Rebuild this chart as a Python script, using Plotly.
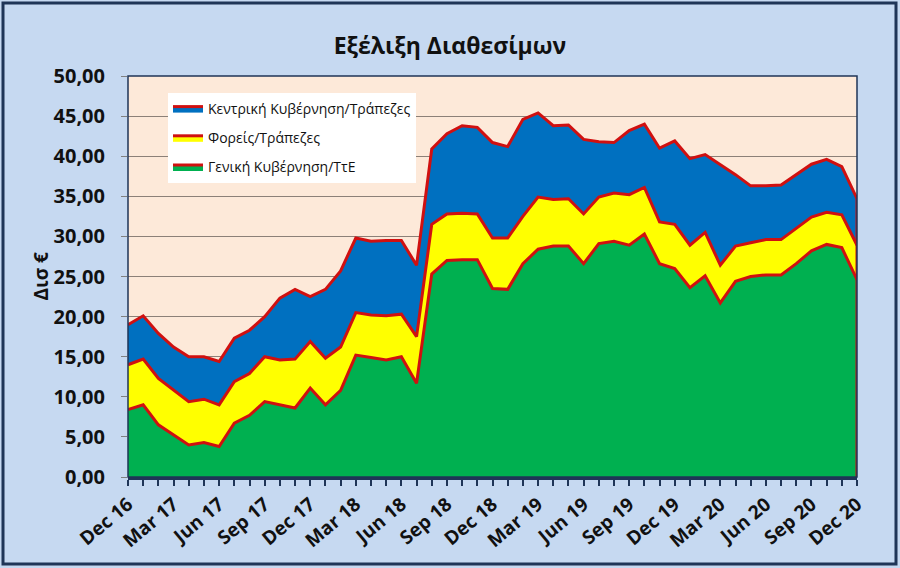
import plotly.graph_objects as go

months = ["Dec 16",
          "Jan 17", "Feb 17", "Mar 17", "Apr 17", "May 17", "Jun 17", "Jul 17", "Aug 17", "Sep 17", "Oct 17", "Nov 17", "Dec 17",
          "Jan 18", "Feb 18", "Mar 18", "Apr 18", "May 18", "Jun 18", "Jul 18", "Aug 18", "Sep 18", "Oct 18", "Nov 18", "Dec 18",
          "Jan 19", "Feb 19", "Mar 19", "Apr 19", "May 19", "Jun 19", "Jul 19", "Aug 19", "Sep 19", "Oct 19", "Nov 19", "Dec 19",
          "Jan 20", "Feb 20", "Mar 20", "Apr 20", "May 20", "Jun 20", "Jul 20", "Aug 20", "Sep 20", "Oct 20", "Nov 20", "Dec 20"]

# Γενική Κυβέρνηση/ΤτΕ (bottom, green)
genikh = [8.4, 9.0, 6.5, 5.2, 4.0, 4.3, 3.8, 6.7, 7.7, 9.4, 9.0, 8.6, 11.1,
          9.0, 10.8, 15.2, 14.9, 14.6, 15.0, 11.7, 25.3, 27.0, 27.1, 27.1, 23.5,
          23.4, 26.6, 28.4, 28.8, 28.8, 26.6, 29.1, 29.4, 28.9, 30.3, 26.6, 26.0,
          23.6, 25.1, 21.7, 24.4, 25.0, 25.2, 25.2, 26.6, 28.2, 29.0, 28.6, 24.6]

# Φορείς/Τράπεζες (middle, yellow)
foreis = [5.6, 5.7, 5.8, 5.6, 5.4, 5.4, 5.2, 5.2, 5.2, 5.6, 5.6, 6.1, 5.8,
          5.8, 5.4, 5.3, 5.3, 5.5, 5.3, 5.8, 6.2, 5.8, 5.8, 5.7, 6.3,
          6.4, 5.9, 6.5, 5.8, 5.9, 6.2, 5.8, 6.0, 6.3, 5.8, 5.2, 5.5,
          5.3, 5.4, 4.7, 4.4, 4.2, 4.4, 4.4, 4.4, 4.2, 4.0, 4.1, 4.3]

# Κεντρική Κυβέρνηση/Τράπεζες (top, blue)
kentrikh = [5.0, 5.4, 5.6, 5.4, 5.6, 5.3, 5.4, 5.4, 5.4, 5.0, 7.7, 8.7, 5.6,
            8.6, 9.5, 9.3, 9.2, 9.4, 9.2, 8.9, 9.4, 10.0, 10.9, 10.8, 11.9,
            11.4, 12.1, 10.5, 9.2, 9.2, 9.3, 6.9, 6.3, 8.0, 7.9, 9.2, 10.4,
            10.8, 9.7, 12.6, 8.9, 7.1, 6.7, 6.8, 6.7, 6.6, 6.6, 6.0, 5.8]

series_names = ["Γενική Κυβέρνηση/ΤτΕ", "Φορείς/Τράπεζες", "Κεντρική Κυβέρνηση/Τράπεζες"]
series_values = [genikh, foreis, kentrikh]
series_colors = ["#00B050", "#FFFF00", "#0070C0"]

tick_labels = [m if i % 3 == 0 else "" for i, m in enumerate(months)]

RED = "#D01010"
NAVY = "#1F3557"
FONT = "Open Sans"

fig = go.Figure()
for k, (name, vals, col) in enumerate(zip(series_names, series_values, series_colors)):
    fig.add_trace(go.Scatter(
        x=months, y=vals, name=name, mode="lines", stackgroup="one",
        line=dict(color=RED, width=3), fillcolor=col,
        legendgroup=f"g{k}", legendrank=10 - k, hoverinfo="skip"))

# right-edge closing outline of the area (Excel style)
total_last = genikh[-1] + foreis[-1] + kentrikh[-1]
fig.add_trace(go.Scatter(x=[months[-1], months[-1]], y=[0, total_last], mode="lines",
                         line=dict(color=RED, width=3), showlegend=False, hoverinfo="skip"))

W, H = 900, 568
L, R, T, B = 128, 43, 76, 91
pw, ph = W - L - R, H - T - B

def px_x(p):
    return (p - L) / pw

def px_y(p):
    return (H - B - p) / ph

fig.update_layout(
    width=W, height=H,
    margin=dict(l=L, r=R, t=T, b=B, autoexpand=False),
    paper_bgcolor="#C6D9F1",
    plot_bgcolor="#FDE9D9",
    font=dict(family=FONT, color="#111111"),
    title=dict(text="<b>Εξέλιξη Διαθεσίμων</b>", x=0.5, xref="container", xanchor="center",
               y=1 - 46 / H, yref="container", yanchor="middle",
               font=dict(family=FONT, size=23, color="#111111")),
    showlegend=True,
    legend=dict(x=px_x(168), y=px_y(93), xanchor="left", yanchor="top",
                bgcolor="#FFFFFF", borderwidth=0, itemwidth=30,
                font=dict(family=FONT, size=14, color="#111111"),
                traceorder="grouped", tracegroupgap=8),
    xaxis=dict(
        type="category", range=[0, len(months) - 1], automargin=False,
        tickmode="array", tickvals=months, ticktext=tick_labels,
        tickangle=-40, tickfont=dict(family=FONT, size=19, color="#111111", weight="bold"),
        ticks="outside", ticklen=6, tickwidth=2, tickcolor=NAVY,
        showline=True, linecolor=NAVY, linewidth=3,
        showgrid=False, zeroline=False),
    yaxis=dict(
        range=[0, 50], tickmode="linear", tick0=0, dtick=5, automargin=False,
        tickformat=".2f", tickfont=dict(family=FONT, size=20, color="#111111", weight="bold"),
        ticks="outside", ticklen=6, tickwidth=1, tickcolor="#808080",
        ticklabelstandoff=12,
        showgrid=True, gridcolor="#8C8078", gridwidth=1,
        zeroline=False, showline=False),
    separators=",.",
    shapes=[
        dict(type="rect", xref="paper", yref="paper", x0=0, x1=1, y0=0, y1=1,
             line=dict(color=NAVY, width=1.5), fillcolor="rgba(0,0,0,0)", layer="above"),
        dict(type="rect", xref="paper", yref="paper",
             x0=px_x(3), x1=px_x(896), y0=px_y(564), y1=px_y(3),
             line=dict(color=NAVY, width=3), fillcolor="rgba(0,0,0,0)", layer="above"),
    ],
    annotations=[
        dict(text="<b>Δισ €</b>", xref="paper", yref="paper", x=px_x(40), y=0.5,
             textangle=-90, showarrow=False, xanchor="center", yanchor="middle",
             font=dict(family=FONT, size=19, color="#111111")),
    ],
)

fig.write_html("out.html", config={"displayModeBar": False},
               post_script="document.body.style.margin='0';document.body.style.overflow='hidden';")
